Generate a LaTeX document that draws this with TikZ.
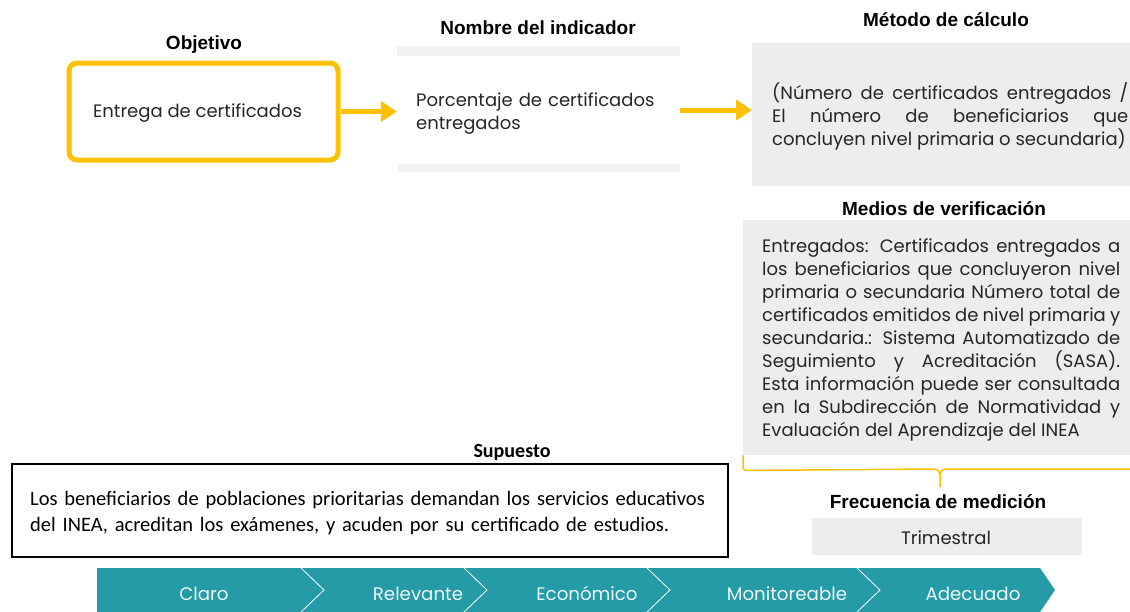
\documentclass[tikz,border=0pt]{standalone}
\usepackage{fontspec}
\usetikzlibrary{arrows.meta,calc}
\newfontfamily\gothic{Poppins}
\newfontfamily\arialf{Liberation Sans}
\newfontfamily\calib{Carlito}
\definecolor{gold}{RGB}{255,192,0}
\definecolor{barg}{RGB}{242,242,242}
\definecolor{boxg}{RGB}{237,237,237}
\definecolor{txt}{RGB}{38,38,38}
\definecolor{teal}{RGB}{36,155,166}
\begin{document}
\begin{tikzpicture}[x=1pt,y=-1pt,
  title/.style={font=\arialf\bfseries\fontsize{19}{22}\selectfont, text=black, inner sep=0pt},
  body/.style={font=\gothic\fontsize{18}{23}\selectfont, text=txt, inner sep=0pt},
  arr/.style={gold, line width=5pt, -{Triangle[length=16pt,width=20pt]}},
  chev/.style={white, line width=0.8pt},
  clab/.style={font=\gothic\fontsize{18.2}{21}\selectfont, text=white!92!teal, inner sep=0pt, anchor=base}]
\useasboundingbox (0,0) rectangle (1130,611);
% Objetivo
\node[title] (tobj) at (204,45) {Objetivo};
\node[draw=gold, line width=5pt, rounded corners=8pt, minimum width=269pt, minimum height=97pt, inner sep=0pt] (obj) at (203.5,111.5) {};
\node[body, anchor=west] (objt) at (93,113) {Entrega de certificados};
% Nombre del indicador
\node[title] (tind) at (538,28) {Nombre del indicador};
\node[minimum width=283pt, minimum height=126pt, inner sep=0pt] (ind) at (538.5,109) {};
\fill[barg] (ind.north west) rectangle ++(283,10);
\fill[barg] (ind.south west) rectangle ++(283,-8);
\node[body, anchor=north west, text width=260pt, align=left] (indt) at (416,93) {Porcentaje de certificados\\entregados};
% Metodo
\node[title] (tmet) at (946,20) {M\'etodo de c\'alculo};
\node[fill=boxg, minimum width=400pt, minimum height=143pt, inner sep=0pt, anchor=north west] (met) at (752,43) {};
\node[body, anchor=north west, text width=356pt, align=justify] (mett) at (772,82)
 {\tolerance=9999 (N\'umero de certificados entregados /\linebreak El n\'umero de beneficiarios que\linebreak concluyen nivel primaria o secundaria)};
% arrows
\draw[arr] (obj.east) -- (obj.east -| ind.west);
\draw[arr] (ind.east |- 0,110) -- (met.west |- 0,110);
% Medios
\node[title] (tmed) at (944,209) {Medios de verificaci\'on};
\node[fill=boxg, minimum width=400pt, minimum height=235pt, inner sep=0pt, anchor=north west] (med) at (743,220) {};
\node[body, anchor=north west, text width=358pt, align=justify] (medt) at (762,239)
 {\tolerance=9999 Entregados: Certificados entregados a\linebreak los beneficiarios que concluyeron nivel\linebreak primaria o secundaria N\'umero total de\linebreak certificados emitidos de nivel primaria y\linebreak secundaria.: Sistema Automatizado de\linebreak Seguimiento y Acreditaci\'on (SASA).\linebreak Esta informaci\'on puede ser consultada\linebreak en la Subdirecci\'on de Normatividad y\linebreak Evaluaci\'on del Aprendizaje del INEA};
% brace
\coordinate (bt) at (940,487);
\draw[gold, line width=1.5pt, line join=round] (med.south west) -- ++(0,12) to[out=-90,in=180] ++(6,3) -- (935,469) to[out=0,in=90] (940,475) -- (bt);
\draw[gold, line width=1.5pt] (940,475) to[out=90,in=180] (945,469) -- (1130,469);
% Frecuencia
\node[title] (tfre) at (938,502) {Frecuencia de medici\'on};
\node[fill=boxg, minimum width=270pt, minimum height=37pt, inner sep=0pt] (fre) at (947,536.5) {};
\node[body] (fret) at (946,538) {Trimestral};
% Supuesto
\node[font=\calib\bfseries\fontsize{20}{23}\selectfont, inner sep=0pt] (tsup) at (512,453) {Supuesto};
\node[draw=black, line width=2pt, minimum width=716pt, minimum height=93pt, inner sep=0pt, anchor=north west] (sup) at (11,463) {};
\node[font=\calib\fontsize{20.5}{26}\selectfont, anchor=north west, text width=700pt, align=left, inner sep=0pt] (supt) at (30,491)
 {Los beneficiarios de poblaciones prioritarias demandan los servicios educativos\\del INEA, acreditan los ex\'amenes, y acuden por su certificado de estudios.};
% chevron bar
\fill[teal] (97,568) -- (1040,568) -- (1055,590) -- (1040,612) -- (97,612) -- cycle;
\foreach \x in {301,464,647,857} {
  \draw[chev] (\x,568) -- (\x+23,590) -- (\x,612);
}
\node[clab] (c1) at (204,600) {Claro};
\node[clab] (c2) at (418,600) {Relevante};
\node[clab] (c3) at (587,600) {Econ\'omico};
\node[clab] (c4) at (787,600) {Monitoreable};
\node[clab] (c5) at (973,600) {Adecuado};
\end{tikzpicture}
\end{document}
